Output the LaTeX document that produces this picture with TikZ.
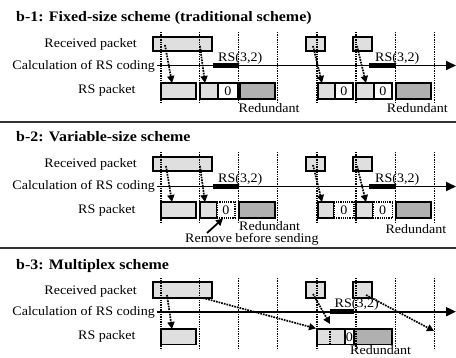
\documentclass[tikz,border=0pt]{standalone}
\usepackage{fontspec}
\setmainfont{Liberation Serif}
\newfontfamily\labfont[FakeStretch=1.08]{Liberation Serif}
\newfontfamily\titfont[FakeStretch=1.1]{Liberation Serif}
\usetikzlibrary{arrows.meta}
\newcommand{\pkt}[7]{\node[#1, minimum width={#4-#3}, minimum height={#6-#5}] (#2) at ({(#3+#4)/2},{(#5+#6)/2}) {#7};}
\begin{document}
\begin{tikzpicture}[x=1pt,y=-1pt,
 pk/.style={draw, line width=1.2pt, inner sep=0pt, outer sep=0pt, font=\labfont\fontsize{13}{15}\selectfont},
 lt/.style={pk, fill=gray!25},
 dk/.style={pk, fill=gray!62},
 zr/.style={pk, fill=white},
 zd/.style={pk, fill=white, densely dotted, line width=1.4pt},
 vl/.style={densely dotted, line width=1.4pt},
 da/.style={densely dotted, line width=1.7pt, -{Triangle[length=7pt,width=7pt]}},
 sa/.style={line width=1.8pt, -{Triangle[length=7pt,width=7pt]}},
 cl/.style={line width=1.9pt, -{Triangle[length=10pt,width=9pt]}},
 rs/.style={line width=4.5pt},
 lab/.style={font=\labfont\fontsize{13}{15}\selectfont, inner sep=0pt},
 tit/.style={font=\titfont\bfseries\fontsize{14.5}{17}\selectfont, inner sep=0pt, anchor=base west},
 sep/.style={line width=1.6pt, draw=black!80}
]
\useasboundingbox (0,0) rectangle (456,358);

% separators
\coordinate (s1a) at (0,122); \coordinate (s1b) at (456,122);
\coordinate (s2a) at (0,248); \coordinate (s2b) at (456,248);
\draw[sep] (s1a) -- (s1b);
\draw[sep] (s2a) -- (s2b);

% ================= b-1 =================
\node[tit] (t1) at (16,21.5) {b-1: Fixed-size scheme (traditional scheme)};
\begin{scope}
\node[lab, anchor=base east] (aLr) at (137,47.3) {Received packet};
\node[lab, anchor=base east] (aLc) at (155,69.5) {Calculation of RS coding};
\node[lab, anchor=base east] (aLp) at (135.7,93.3) {RS packet};
\pkt{lt}{aR1}{153}{212}{37}{51}{}
\pkt{lt}{aR2}{306}{325}{37}{51}{}
\pkt{lt}{aR3}{353}{372}{37}{51}{}
\coordinate (aL0) at (157,65.5); \coordinate (aL1) at (456,65.5);
\draw[cl] (aL0) -- (aL1);
\coordinate (aS1) at (213,65.5); \coordinate (aS2) at (238.5,65.5);
\coordinate (aS3) at (369,65.5); \coordinate (aS4) at (395.5,65.5);
\draw[rs] (aS1) -- (aS2);
\draw[rs] (aS3) -- (aS4);
\node[lab, anchor=base west] (aRS1) at (218,62) {RS(3,2)};
\node[lab, anchor=base west] (aRS2) at (375,62) {RS(3,2)};
\pkt{lt}{aP1}{161}{196}{83}{99}{}
\pkt{lt}{aP2}{200}{218}{83}{99}{}
\pkt{zr}{aZ1}{218}{238}{83}{99}{0}
\pkt{dk}{aD1}{240}{275}{83}{99}{}
\pkt{lt}{aP3}{318}{335}{83}{99}{}
\pkt{zr}{aZ2}{335}{353}{83}{99}{0}
\pkt{lt}{aP4}{356}{374}{83}{99}{}
\pkt{zr}{aZ3}{374}{392}{83}{99}{0}
\pkt{dk}{aD2}{396}{431}{83}{99}{}
\node[lab, anchor=base west] (aRd1) at (238.5,112.5) {Redundant};
\node[lab, anchor=base west] (aRd2) at (386.7,112.5) {Redundant};
\coordinate (aA1) at (165,45); \coordinate (aB1) at (172,83);
\coordinate (aA2) at (200,46); \coordinate (aB2) at (205,83);
\coordinate (aA3) at (313,46); \coordinate (aB3) at (322,83);
\coordinate (aA4) at (357,46); \coordinate (aB4) at (366,83);
\draw[da] (aA1) -- (aB1);
\draw[da] (aA2) -- (aB2);
\draw[da] (aA3) -- (aB3);
\draw[da] (aA4) -- (aB4);
\foreach \x in {161,199.5,238.5,277.5,317,356,395.5,434.5} \draw[vl] (\x,32) -- (\x,103);
\end{scope}

% ================= b-2 =================
\node[tit] (t2) at (16,141.5) {b-2: Variable-size scheme};
\begin{scope}[shift={(0,120)}]
\node[lab, anchor=base east] (bLr) at (137,48) {Received packet};
\node[lab, anchor=base east] (bLc) at (155,69.5) {Calculation of RS coding};
\node[lab, anchor=base east] (bLp) at (135.7,93.3) {RS packet};
\pkt{lt}{bR1}{153}{212}{37}{51}{}
\pkt{lt}{bR2}{306}{325}{37}{51}{}
\pkt{lt}{bR3}{353}{372}{37}{51}{}
\coordinate (bL0) at (157,66.5); \coordinate (bL1) at (456,66.5);
\draw[cl] (bL0) -- (bL1);
\coordinate (bS1) at (213,66.5); \coordinate (bS2) at (238.5,66.5);
\coordinate (bS3) at (369,66.5); \coordinate (bS4) at (395.5,66.5);
\draw[rs] (bS1) -- (bS2);
\draw[rs] (bS3) -- (bS4);
\node[lab, anchor=base west] (bRS1) at (218,63) {RS(3,2)};
\node[lab, anchor=base west] (bRS2) at (375,63) {RS(3,2)};
\pkt{lt}{bP1}{161}{196}{82}{98}{}
\pkt{lt}{bP2}{200}{217}{82}{98}{}
\pkt{zd}{bZ1}{217}{235}{82}{98}{0}
\pkt{dk}{bD1}{239}{275}{82}{98}{}
\pkt{lt}{bP3}{318}{334}{82}{98}{}
\pkt{zd}{bZ2}{334}{354}{82}{98}{0}
\pkt{lt}{bP4}{356}{373}{82}{98}{}
\pkt{zd}{bZ3}{373}{392.5}{82}{98}{0}
\pkt{dk}{bD2}{396}{431}{82}{98}{}
\node[lab, anchor=base west] (bRd1) at (239,110.5) {Redundant};
\node[lab, anchor=base west] (bRd2) at (385.3,113.3) {Redundant};
\node[lab, anchor=base west] (bRm) at (185,123) {Remove before sending};
\coordinate (bM0) at (207,113); \coordinate (bM1) at (223,98.5);
\draw[sa] (bM0) -- (bM1);
\coordinate (bA1) at (166,46); \coordinate (bB1) at (172,82);
\coordinate (bA2) at (200,46); \coordinate (bB2) at (205,82);
\coordinate (bA3) at (313,45); \coordinate (bB3) at (322,82);
\coordinate (bA4) at (357,46); \coordinate (bB4) at (366,82);
\draw[da] (bA1) -- (bB1);
\draw[da] (bA2) -- (bB2);
\draw[da] (bA3) -- (bB3);
\draw[da] (bA4) -- (bB4);
\foreach \x in {161,199.5,238.5,277.5,317,356,395.5,434.5} \draw[vl] (\x,32) -- (\x,103);
\end{scope}

% ================= b-3 =================
\node[tit] (t3) at (16,269.5) {b-3: Multiplex scheme};
\begin{scope}[shift={(0,246)}]
\node[lab, anchor=base east] (cLr) at (137,49) {Received packet};
\node[lab, anchor=base east] (cLc) at (155,69.5) {Calculation of RS coding};
\node[lab, anchor=base east] (cLp) at (135.7,93.3) {RS packet};
\pkt{lt}{cR1}{153}{212}{36}{52}{}
\pkt{lt}{cR2}{306}{325}{36}{52}{}
\pkt{lt}{cR3}{353}{372}{36}{52}{}
\coordinate (cL0) at (157,65.7); \coordinate (cL1) at (456,65.7);
\draw[cl] (cL0) -- (cL1);
\coordinate (cS1) at (330,65.7); \coordinate (cS2) at (354,65.7);
\draw[rs] (cS1) -- (cS2);
\node[lab, anchor=base west] (cRS1) at (334.5,62) {RS(3,2)};
\pkt{lt}{cP1}{161}{196}{83}{98.5}{}
\pkt{lt}{cP2}{317}{345}{83}{98.5}{}
\pkt{zr}{cZ1}{345}{354}{83}{98.5}{0}
\pkt{dk}{cD1}{354}{392}{83}{98.5}{}
\coordinate (cI0) at (330,83); \coordinate (cI1) at (330,98.5);
\draw[vl] (cI0) -- (cI1);
\node[lab, anchor=base west] (cRd1) at (350,108.5) {Redundant};
\coordinate (cA1) at (167,49); \coordinate (cB1) at (172,83);
\coordinate (cA2) at (203,52); \coordinate (cB2) at (316,82.5);
\coordinate (cA3) at (313,48); \coordinate (cB3) at (330,78);
\coordinate (cA4) at (366,49); \coordinate (cB4) at (434,85);
\draw[da] (cA1) -- (cB1);
\draw[da] (cA2) -- (cB2);
\draw[da] (cA3) -- (cB3);
\draw[da] (cA4) -- (cB4);
\foreach \x in {161,199.5,238.5,277.5,317,356,395.5,434.5} \draw[vl] (\x,32) -- (\x,104);
\end{scope}
\end{tikzpicture}
\end{document}
